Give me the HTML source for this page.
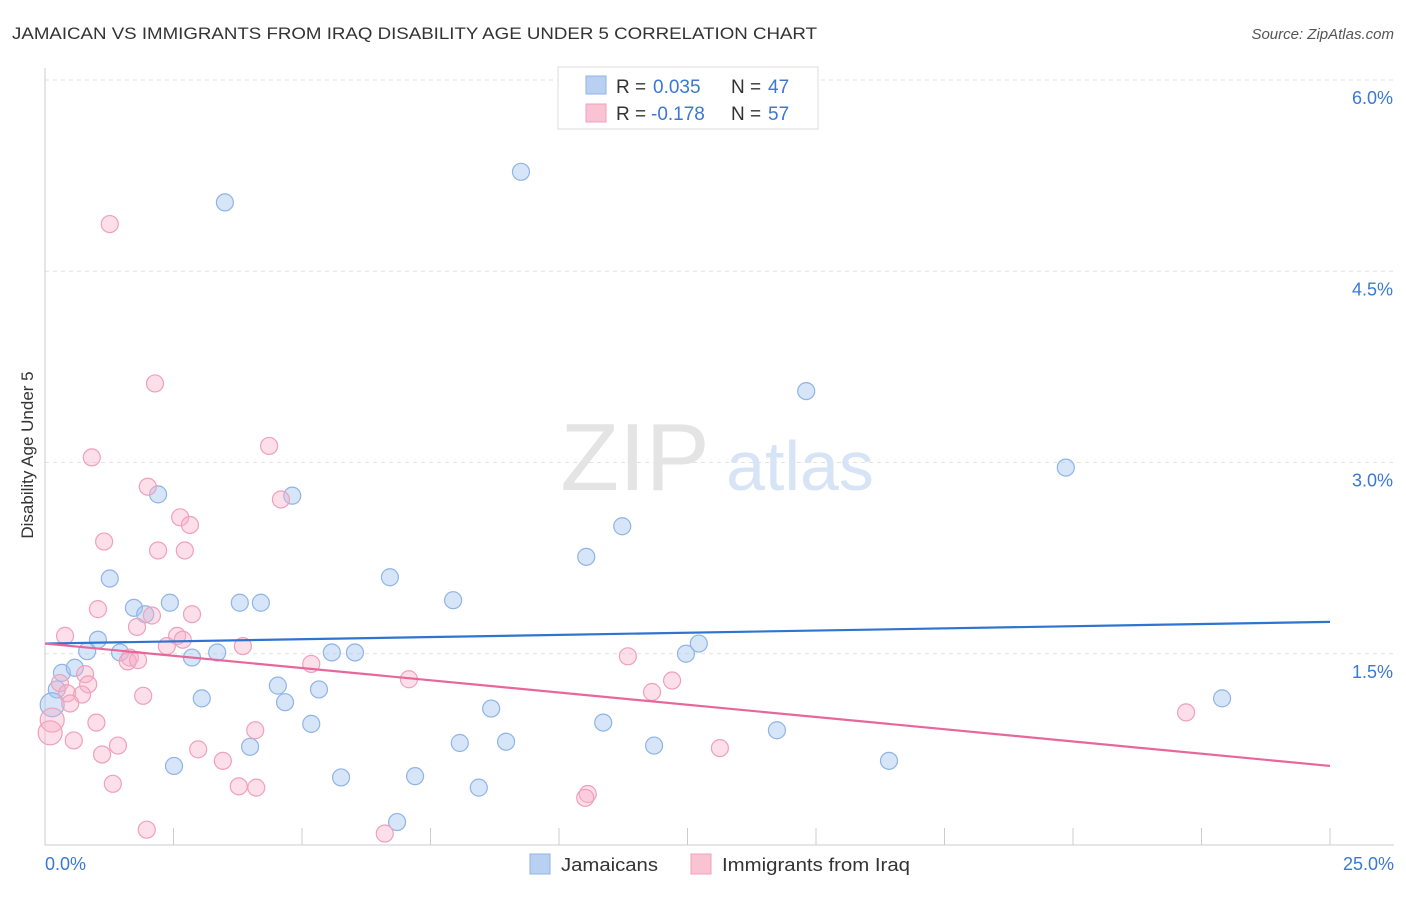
<!DOCTYPE html>
<html><head><meta charset="utf-8">
<style>
body{margin:0;background:#fff;font-family:"Liberation Sans",sans-serif;}
svg text{font-family:"Liberation Sans",sans-serif;}
</style></head>
<body>
<svg width="1406" height="892" viewBox="0 0 1406 892">
<text x="12" y="39" font-size="17" fill="#333" textLength="805" lengthAdjust="spacingAndGlyphs">JAMAICAN VS IMMIGRANTS FROM IRAQ DISABILITY AGE UNDER 5 CORRELATION CHART</text>
<text x="1394" y="39" font-size="15" fill="#555" text-anchor="end" font-style="italic">Source: ZipAtlas.com</text>
<g id="grid"></g>
<text x="635" y="490" font-size="96" fill="#e4e4e4" text-anchor="middle" font-family="Liberation Serif">ZIP</text>
<text x="800" y="490" font-size="70" fill="#d6e4f5" text-anchor="middle">atlas</text>
<g id="axes"></g>
<g id="pts"></g>
<g id="trends"></g>
<text transform="translate(33,455) rotate(-90)" font-size="17" fill="#333" text-anchor="middle">Disability Age Under 5</text>
<g>
<rect x="558" y="67" width="260" height="62" fill="#fff" stroke="#ddd"/>
<rect x="586" y="76" width="20" height="18" fill="#b8d1f3" stroke="#8fb4e6"/>
<rect x="586" y="104" width="20" height="18" fill="#f9c3d4" stroke="#f0a0bb"/>
<text x="616" y="93" font-size="19" fill="#333">R =</text>
<text x="653" y="93" font-size="19" fill="#3a78d4">0.035</text>
<text x="731" y="93" font-size="19" fill="#333">N =</text>
<text x="768" y="93" font-size="19" fill="#3a78d4">47</text>
<text x="616" y="120" font-size="19" fill="#333">R =</text>
<text x="651" y="120" font-size="19" fill="#3a78d4">-0.178</text>
<text x="731" y="120" font-size="19" fill="#333">N =</text>
<text x="768" y="120" font-size="19" fill="#3a78d4">57</text>
</g>
<g>
<rect x="530" y="854" width="20" height="20" fill="#b8d1f3" stroke="#8fb4e6"/>
<text x="561" y="871" font-size="18" fill="#333" textLength="97" lengthAdjust="spacingAndGlyphs">Jamaicans</text>
<rect x="691" y="854" width="20" height="20" fill="#f9c3d4" stroke="#f0a0bb"/>
<text x="722" y="871" font-size="18" fill="#333" textLength="188" lengthAdjust="spacingAndGlyphs">Immigrants from Iraq</text>
</g>
</svg>
<script>
const yTicks=[1.5,3.0,4.5,6.0];
const yTickLabels=["1.5%","3.0%","4.5%","6.0%"];
const xTicks=[0,2.5,5,7.5,10,12.5,15,17.5,20,22.5,25];
const blueX=[3.50,9.26,14.81,19.86,2.20,4.81,11.23,10.53,1.26,6.71,7.94,1.73,1.95,2.43,3.79,4.20,1.03,0.82,1.46,2.86,3.35,5.58,6.03,12.72,12.47,0.33,0.58,0.23,0.14,4.53,5.33,4.67,3.05,22.90,8.68,5.18,10.86,14.24,8.07,8.97,11.85,3.99,2.51,16.42,5.76,7.20,8.44,6.85];
const blueY=[5.04,5.28,3.56,2.96,2.75,2.74,2.50,2.26,2.09,2.10,1.92,1.86,1.81,1.90,1.90,1.90,1.61,1.52,1.51,1.47,1.51,1.51,1.51,1.58,1.50,1.35,1.39,1.22,1.10,1.25,1.22,1.12,1.15,1.15,1.07,0.95,0.96,0.90,0.80,0.81,0.78,0.77,0.62,0.66,0.53,0.54,0.45,0.18];
const pinkX=[1.26,2.14,4.36,0.91,2.00,4.59,2.63,2.82,1.15,2.20,2.72,1.03,2.86,2.08,1.79,0.39,2.57,2.68,2.37,3.85,1.65,1.61,1.81,5.18,11.34,0.78,0.29,0.84,7.08,12.20,0.43,0.72,11.81,1.91,0.49,22.20,0.14,1.00,0.10,4.09,0.56,1.42,2.98,13.13,1.11,3.46,1.32,3.77,4.11,10.56,10.51,1.98,6.61];
const pinkY=[4.87,3.62,3.13,3.04,2.81,2.71,2.57,2.51,2.38,2.31,2.31,1.85,1.81,1.80,1.71,1.64,1.64,1.61,1.56,1.56,1.47,1.44,1.45,1.42,1.48,1.34,1.27,1.26,1.30,1.29,1.19,1.18,1.20,1.17,1.11,1.04,0.98,0.96,0.88,0.90,0.82,0.78,0.75,0.76,0.71,0.66,0.48,0.46,0.45,0.40,0.37,0.12,0.09];
const blueTrend=[1.58,1.75];
const pinkTrend=[1.58,0.62];
const xMin=0,xMax=25;
const X=v=>45+(v-xMin)/(xMax-xMin)*1285;
const Y=v=>845-v*127.5;
const NS="http://www.w3.org/2000/svg";
function mk(tag,attrs,parent){const e=document.createElementNS(NS,tag);for(const k in attrs)e.setAttribute(k,attrs[k]);document.getElementById(parent).appendChild(e);return e;}
yTicks.forEach((t,i)=>{
 const l=mk('line',{x1:45,x2:1394,y1:Y(t),y2:Y(t),stroke:'#e2e2e2','stroke-dasharray':'4,4'},'grid');
 
 
 const tx=mk('text',{x:1393,y:Y(t)+24,'font-size':18,fill:'#3a78d4','text-anchor':'end'},'axes');
 tx.textContent=yTickLabels[i];
 
 
});
const ax=mk('line',{x1:45,x2:45,y1:68,y2:845,stroke:'#ccc'},'axes');


const bx=mk('line',{x1:45,x2:1394,y1:845,y2:845,stroke:'#ccc'},'axes');


xTicks.forEach(t=>{
 const l=mk('line',{x1:X(t),x2:X(t),y1:828,y2:845,stroke:'#ccc'},'axes');
 
 
});
const x0=mk('text',{x:45,y:870,'font-size':18,fill:'#3a78d4'},'axes');x0.textContent="0.0%";


const x1=mk('text',{x:1394,y:870,'font-size':18,fill:'#3a78d4','text-anchor':'end'},'axes');x1.textContent="25.0%";


function pts(xs,ys,fill,stroke,name){xs.forEach((v,i)=>{
 const r=(v<0.2)?12:8.5;
 const c=mk('circle',{cx:X(v),cy:Y(ys[i]),r:r,fill:fill,stroke:stroke,'stroke-width':1.2},'pts');
 
 
});}
pts(blueX,blueY,'rgba(165,198,240,0.45)','#8fb4e6','jamaican-point');
pts(pinkX,pinkY,'rgba(247,175,200,0.4)','#f0a0bb','iraq-point');
const bt=mk('line',{x1:X(0),x2:X(25),y1:Y(blueTrend[0]),y2:Y(blueTrend[1]),stroke:'#2f74d0','stroke-width':2.2},'trends');


const pt=mk('line',{x1:X(0),x2:X(25),y1:Y(pinkTrend[0]),y2:Y(pinkTrend[1]),stroke:'#e8679a','stroke-width':2.2},'trends');


</script>
</body></html>
